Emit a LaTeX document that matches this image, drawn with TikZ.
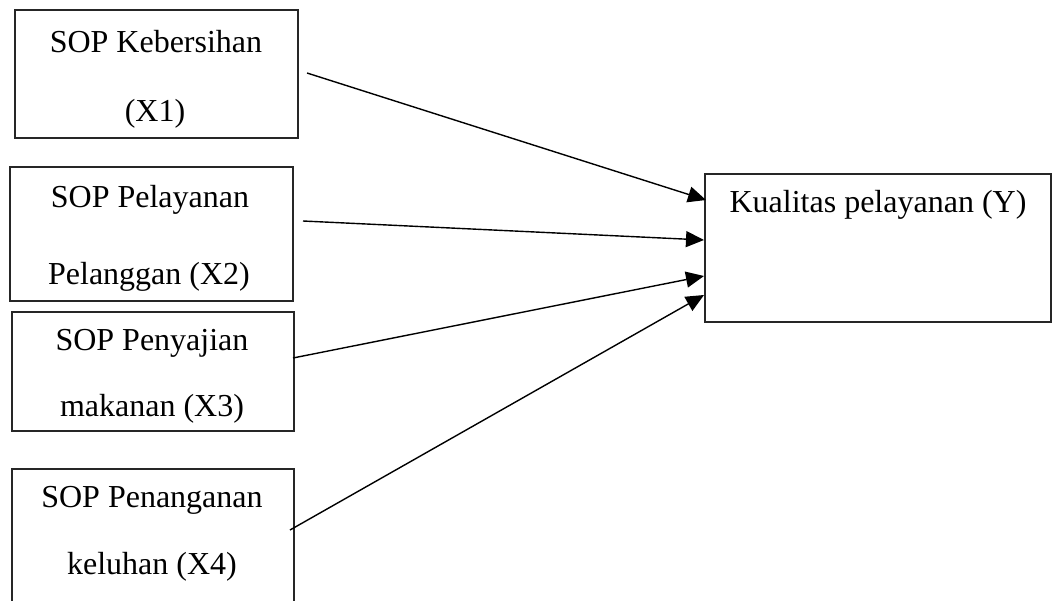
\documentclass[tikz,border=0pt]{standalone}
\usepackage{fontspec}
\setmainfont{Liberation Serif}
\usetikzlibrary{arrows.meta}
\begin{document}
\begin{tikzpicture}[x=1pt,y=-1pt,
  box/.style={draw=black!85,line width=1.2pt,rectangle,inner sep=0pt},
  lbl/.style={anchor=base,inner sep=0pt,font=\fontsize{32}{38}\selectfont},
  conn/.style={line width=1.4pt,-{Triangle[length=18pt,width=16pt]}}]
\useasboundingbox (0,0) rectangle (1058,600);
\clip (0,0) rectangle (1058,600);
% boxes
\node[box,minimum width=283pt,minimum height=128pt] (x1) at (156.5,74) {};
\node[box,minimum width=283pt,minimum height=134pt] (x2) at (151.5,234) {};
\node[box,minimum width=282pt,minimum height=119pt] (x3) at (153,371.5) {};
\node[box,minimum width=282pt,minimum height=140pt] (x4) at (153,539) {};
\node[box,minimum width=346pt,minimum height=148pt] (y) at (878,248) {};
% texts
\node[lbl] (t1a) at (156,52) {SOP Kebersihan};
\node[lbl] (t1b) at (155,121) {(X1)};
\node[lbl] (t2a) at (150,207) {SOP Pelayanan};
\node[lbl] (t2b) at (149,284) {Pelanggan (X2)};
\node[lbl] (t3a) at (152,350) {SOP Penyajian};
\node[lbl] (t3b) at (152,416) {makanan (X3)};
\node[lbl] (t4a) at (152,507) {SOP Penanganan};
\node[lbl] (t4b) at (152,574) {keluhan (X4)};
\node[lbl] (ty) at (878,212) {Kualitas pelayanan (Y)};
% connector ends
\coordinate (s1) at (307,73);
\coordinate (s2) at (303,221);
\coordinate (s3) at (293,358);
\coordinate (s4) at (290,530);
\coordinate (e1) at (706,200);
\coordinate (e2) at (704,240);
\coordinate (e3) at (704,276);
\coordinate (e4) at (704,295);
\draw[conn] (s1) -- (e1);
\draw[conn] (s2) -- (e2);
\draw[conn] (s3) -- (e3);
\draw[conn] (s4) -- (e4);
\end{tikzpicture}
\end{document}
